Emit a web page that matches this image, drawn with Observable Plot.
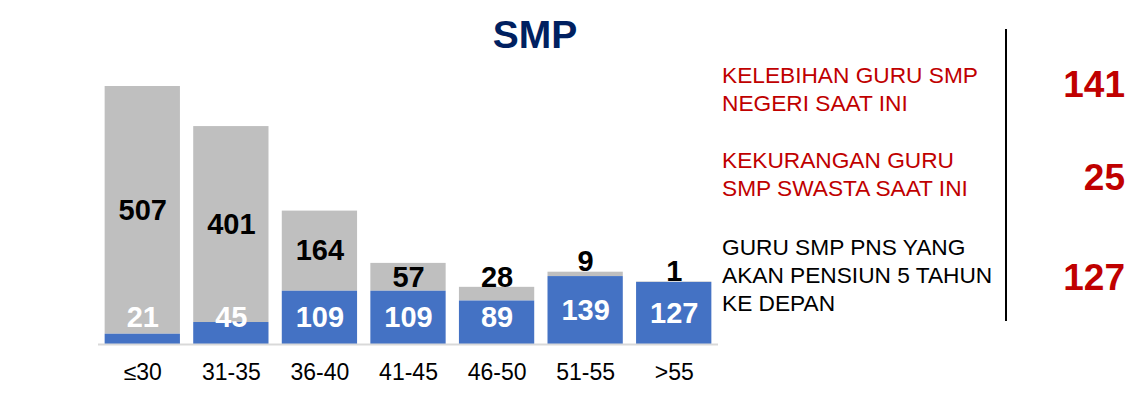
<!DOCTYPE html>
<html>
<head>
<meta charset="utf-8">
<script src="https://cdn.jsdelivr.net/npm/d3@7"></script>
<script src="https://cdn.jsdelivr.net/npm/@observablehq/plot@0.6"></script>
<style>
  html, body { margin: 0; padding: 0; background: #fff; }
  #wrap { position: relative; width: 1128px; height: 405px; font-family: "Liberation Sans", Arial, sans-serif; }
  #title { position: absolute; left: 435px; width: 200px; top: 14px; text-align: center; font-weight: bold; font-size: 39px; color: #002060; line-height: 42px; }
  .note { position: absolute; left: 722px; font-size: 22.7px; line-height: 28px; }
  .num { position: absolute; right: 3px; width: 110px; text-align: right; font-weight: bold; font-size: 37px; color: #c00000; line-height: 40px; }
  #vline { position: absolute; left: 1005px; top: 29px; width: 2px; height: 292px; background: #000; }
</style>
</head>
<body>
<div id="wrap">
  <div id="chart"></div>
  <div id="title">SMP</div>
  <div class="note" style="top:61px;color:#c00000">KELEBIHAN GURU SMP<br>NEGERI SAAT INI</div>
  <div class="note" style="top:146px;color:#c00000">KEKURANGAN GURU<br>SMP SWASTA SAAT INI</div>
  <div class="note" style="top:233px;color:#000">GURU SMP PNS YANG<br>AKAN PENSIUN 5 TAHUN<br>KE DEPAN</div>
  <div id="vline"></div>
  <div class="num" style="top:65px">141</div>
  <div class="num" style="top:158px">25</div>
  <div class="num" style="top:258px">127</div>
</div>
<script>
const ageGroups = ["≤30", "31-35", "36-40", "41-45", "46-50", "51-55", ">55"];
const pnsValues = [21, 45, 109, 109, 89, 139, 127];
const nonPnsValues = [507, 401, 164, 57, 28, 9, 1];

const rows = ageGroups.map((age, i) => ({
  age,
  pns: pnsValues[i],
  nonPns: nonPnsValues[i],
  total: pnsValues[i] + nonPnsValues[i]
}));

const labelFont = {fontFamily: "Liberation Sans, Arial, sans-serif", fontWeight: "bold", fontSize: 29};

const chart = Plot.plot({
  width: 1128,
  height: 405,
  marginLeft: 98,
  marginRight: 410,
  marginTop: 86,
  marginBottom: 61,
  style: {fontFamily: "Liberation Sans, Arial, sans-serif", background: "transparent"},
  x: {domain: ageGroups, paddingInner: 0.15, paddingOuter: 0.075, round: false, label: null},
  y: {domain: [0, 528], axis: null},
  marks: [
    Plot.barY(rows, {x: "age", y1: "pns", y2: "total", fill: "#bfbfbf"}),
    Plot.barY(rows, {x: "age", y1: 0, y2: "pns", fill: "#4472c4"}),
    Plot.ruleY([0], {stroke: "#d9d9d9", strokeWidth: 2}),
    Plot.axisX({tickSize: 0, tickPadding: 19, fontSize: 23, fill: "#000", label: null}),
    Plot.text(rows, {
      x: "age",
      y: d => Math.max(d.pns / 2, 55),
      text: d => String(d.pns),
      fill: "#fff",
      ...labelFont
    }),
    Plot.text(rows.filter(d => d.nonPns >= 50), {
      x: "age",
      y: d => d.pns + d.nonPns / 2,
      text: d => String(d.nonPns),
      fill: "#000",
      ...labelFont
    }),
    Plot.text(rows.filter(d => d.nonPns < 50), {
      x: "age",
      y: "total",
      dy: -10,
      text: d => String(d.nonPns),
      fill: "#000",
      ...labelFont
    })
  ]
});
document.getElementById("chart").appendChild(chart);
</script>
</body>
</html>
